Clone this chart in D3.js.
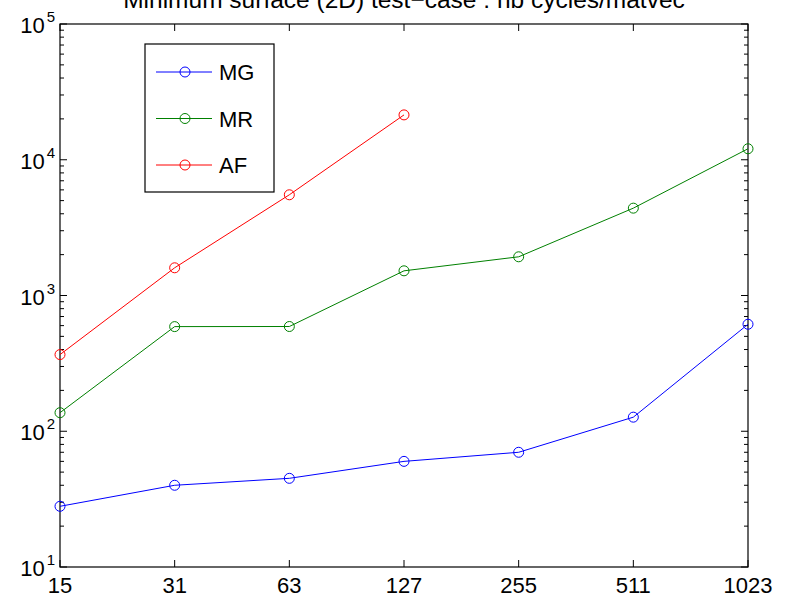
<!DOCTYPE html>
<html>
<head>
<meta charset="utf-8">
<script src="https://cdn.jsdelivr.net/npm/d3@7"></script>
<style>
  body { margin: 0; background: #fff; }
  svg { display: block; font-family: "Liberation Sans", Arial, sans-serif; }
</style>
</head>
<body>
<svg id="chart" width="790" height="598"></svg>
<script>
const xLabels = ["15", "31", "63", "127", "255", "511", "1023"];
const mgValues = [28, 40, 45, 60, 70, 127, 614];
const mrValues = [137, 590, 591, 1520, 1928, 4400, 12050];
const afValues = [367, 1600, 5520, 21400];
const seriesNames = ["MG", "MR", "AF"];
const seriesColors = ["#0000ff", "#008000", "#ff0000"];
const yDecades = [1, 2, 3, 4, 5];
const titleText = "Minimum surface (2D) test\u2212case : nb cycles/matvec";

const svg = d3.select("#chart");
const margin = { top: 24, right: 42, bottom: 31, left: 60 };
const width = 790, height = 598;
const innerW = width - margin.left - margin.right;
const innerH = height - margin.top - margin.bottom;
const fs = 22;

const g = svg.append("g").attr("transform", `translate(${margin.left},${margin.top})`);

const x = d3.scaleLinear().domain([0, xLabels.length - 1]).range([0, innerW]);
const y = d3.scaleLog().domain([10, 1e5]).range([innerH, 0]);

// title, larger than tick labels and clipped at the top like the original
svg.append("text")
  .attr("x", margin.left + innerW / 2)
  .attr("y", 7.5)
  .attr("text-anchor", "middle")
  .attr("font-size", 24.5)
  .text(titleText);

// ticks: x on top and bottom, inward
const xIdx = d3.range(xLabels.length);
xIdx.forEach(i => {
  g.append("line").attr("x1", x(i)).attr("x2", x(i)).attr("y1", innerH).attr("y2", innerH - 7)
    .attr("stroke", "#000");
  g.append("line").attr("x1", x(i)).attr("x2", x(i)).attr("y1", 0).attr("y2", 7)
    .attr("stroke", "#000");
  g.append("text").attr("x", x(i)).attr("y", innerH + 26)
    .attr("text-anchor", "middle").attr("font-size", fs).text(xLabels[i]);
});

// y ticks, major and minor on both sides
const yTicks = [];
for (let d = 1; d < 5; d++) {
  for (let m = 1; m < 10; m++) yTicks.push({ v: m * Math.pow(10, d), major: m === 1 });
}
yTicks.push({ v: 1e5, major: true });
yTicks.forEach(t => {
  const len = t.major ? 7 : 4;
  const yy = y(t.v);
  g.append("line").attr("x1", 0).attr("x2", len).attr("y1", yy).attr("y2", yy).attr("stroke", "#000");
  g.append("line").attr("x1", innerW).attr("x2", innerW - len).attr("y1", yy).attr("y2", yy).attr("stroke", "#000");
});

yDecades.forEach(d => {
  const t = g.append("text")
    .attr("x", -5).attr("y", y(Math.pow(10, d)) + 9)
    .attr("text-anchor", "end").attr("font-size", fs);
  t.append("tspan").text("10");
  t.append("tspan").attr("font-size", 15).attr("dx", 2).attr("dy", -11).text(d);
});

// axes box
g.append("rect").attr("width", innerW).attr("height", innerH)
  .attr("fill", "none").attr("stroke", "#000").attr("stroke-width", 1.2);

// series
const allSeries = [mgValues, mrValues, afValues];
const line = d3.line().x((d, i) => x(i)).y(d => y(d));
allSeries.forEach((vals, s) => {
  g.append("path").datum(vals).attr("d", line)
    .attr("fill", "none").attr("stroke", seriesColors[s]).attr("stroke-width", 1);
  g.selectAll(null).data(vals).join("circle")
    .attr("cx", (d, i) => x(i)).attr("cy", d => y(d)).attr("r", 5)
    .attr("fill", "none").attr("stroke", seriesColors[s]).attr("stroke-width", 1);
});

// legend
const leg = svg.append("g").attr("transform", "translate(145,44)");
leg.append("rect").attr("width", 129).attr("height", 148)
  .attr("fill", "#fff").attr("stroke", "#000").attr("stroke-width", 1.2);
seriesNames.forEach((name, s) => {
  const yy = 28 + s * 46.5;
  leg.append("line").attr("x1", 11).attr("x2", 67).attr("y1", yy).attr("y2", yy)
    .attr("stroke", seriesColors[s]);
  leg.append("circle").attr("cx", 40).attr("cy", yy).attr("r", 5)
    .attr("fill", "none").attr("stroke", seriesColors[s]);
  leg.append("text").attr("x", 74).attr("y", yy + 8).attr("font-size", fs).text(name);
});
</script>
</body>
</html>
